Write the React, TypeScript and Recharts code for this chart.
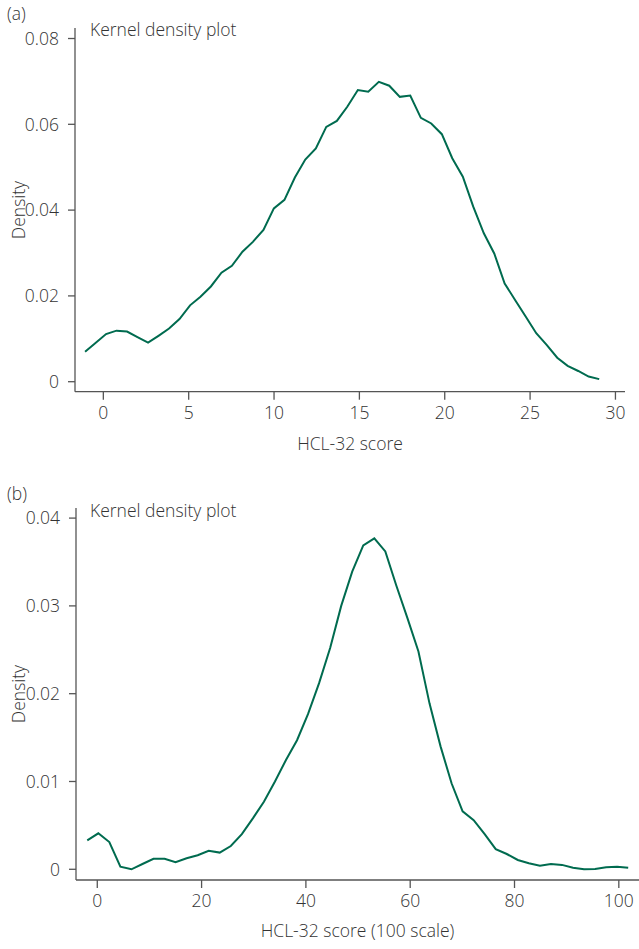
import React from 'react';
import { LineChart, Line, XAxis, YAxis } from 'recharts';

// Panel (a): HCL-32 score
const scoreA = [-1.07, -0.46, 0.16, 0.77, 1.39, 2.0, 2.62, 3.23, 3.85, 4.46, 5.08, 5.69, 6.3, 6.92, 7.53, 8.15, 8.76, 9.38, 9.99, 10.61, 11.22, 11.83, 12.45, 13.06, 13.68, 14.29, 14.91, 15.52, 16.14, 16.75, 17.37, 17.98, 18.6, 19.21, 19.83, 20.44, 21.06, 21.67, 22.29, 22.9, 23.51, 24.13, 24.74, 25.36, 25.97, 26.59, 27.2, 27.82, 28.43, 29.05];
const densityA = [0.007, 0.009, 0.0111, 0.0119, 0.0117, 0.0104, 0.0091, 0.0107, 0.0124, 0.0146, 0.0178, 0.0198, 0.0222, 0.0254, 0.027, 0.0303, 0.0326, 0.0354, 0.0404, 0.0424, 0.0476, 0.0518, 0.0544, 0.0594, 0.0608, 0.0641, 0.068, 0.0676, 0.0699, 0.069, 0.0664, 0.0667, 0.0615, 0.0602, 0.0577, 0.0521, 0.0478, 0.0408, 0.0346, 0.0299, 0.0229, 0.019, 0.0152, 0.0113, 0.0086, 0.0056, 0.0037, 0.0025, 0.0012, 0.0006];
const xTicksA = [0, 5, 10, 15, 20, 25, 30];
const yTicksA = [0, 0.02, 0.04, 0.06, 0.08];

// Panel (b): HCL-32 score (100 scale)
const scoreB = [-1.92, 0.2, 2.31, 4.43, 6.55, 8.66, 10.78, 12.9, 15.01, 17.13, 19.25, 21.36, 23.48, 25.6, 27.72, 29.83, 31.95, 34.07, 36.18, 38.3, 40.42, 42.53, 44.65, 46.77, 48.88, 51.0, 53.12, 55.23, 57.35, 59.47, 61.58, 63.7, 65.82, 67.93, 70.05, 72.17, 74.28, 76.4, 78.52, 80.63, 82.75, 84.87, 86.98, 89.1, 91.22, 93.33, 95.45, 97.57, 99.68, 101.8];
const densityB = [0.0033, 0.0041, 0.0031, 0.0003, 0.0, 0.0006, 0.0012, 0.0012, 0.0008, 0.00125, 0.0016, 0.0021, 0.0019, 0.00265, 0.004, 0.0058, 0.0077, 0.01, 0.01245, 0.0147, 0.0177, 0.0212, 0.0252, 0.03, 0.0339, 0.0369, 0.0377, 0.0362, 0.0323, 0.0286, 0.0248, 0.0189, 0.014, 0.0098, 0.0066, 0.0056, 0.004, 0.0023, 0.00174, 0.00106, 0.00068, 0.00041, 0.0006, 0.0005, 0.00018, 0.0, 0.00003, 0.00023, 0.0003, 0.00018];
const xTicksB = [0, 20, 40, 60, 80, 100];
const yTicksB = [0, 0.01, 0.02, 0.03, 0.04];

const dataA = scoreA.map((x, i) => ({ x, y: densityA[i] }));
const dataB = scoreB.map((x, i) => ({ x, y: densityB[i] }));

const FONT = '"Open Sans", Lato, sans-serif';
const TEXT = '#333333';
const AXIS = '#555555';
const GREEN = '#006b4f';
const FS = 17.5;

const tickStyle = { fontFamily: FONT, fontSize: FS, fill: TEXT, fontWeight: 300 };
const fmt = (v: number) => (v === 0 ? '0' : String(v));

export default function App() {
  return (
    <div style={{ position: 'absolute', left: 0, top: 0, width: 639, height: 949, background: '#fff' }}>
      <div style={{ position: 'absolute', left: 0, top: 0 }}>
        <LineChart width={639} height={470} data={dataA} margin={{ top: 28, right: 14, bottom: 48.3, left: 15 }}>
          <XAxis
            type="number"
            dataKey="x"
            domain={[-1.66, 30.56]}
            ticks={xTicksA}
            allowDataOverflow
            height={30}
            tickSize={8}
            tickMargin={7}
            stroke={AXIS}
            strokeWidth={1.3}
            tick={tickStyle}
          />
          <YAxis
            type="number"
            domain={[-0.00233, 0.08245]}
            ticks={yTicksA}
            allowDataOverflow
            width={60}
            tickSize={7}
            tickMargin={9}
            stroke={AXIS}
            strokeWidth={1.3}
            tick={tickStyle}
            tickFormatter={fmt}
          />
          <Line type="linear" dataKey="y" stroke={GREEN} strokeWidth={2} dot={false} isAnimationActive={false} />
        </LineChart>
      </div>
      <div style={{ position: 'absolute', left: 0, top: 470 }}>
        <LineChart width={639} height={479} data={dataB} margin={{ top: 38, right: 0, bottom: 39, left: 16 }}>
          <XAxis
            type="number"
            dataKey="x"
            domain={[-4.08, 103.87]}
            ticks={xTicksB}
            allowDataOverflow
            height={30}
            tickSize={8}
            tickMargin={7}
            stroke={AXIS}
            strokeWidth={1.3}
            tick={tickStyle}
          />
          <YAxis
            type="number"
            domain={[-0.00122, 0.04115]}
            ticks={yTicksB}
            allowDataOverflow
            width={60}
            tickSize={7}
            tickMargin={9}
            stroke={AXIS}
            strokeWidth={1.3}
            tick={tickStyle}
            tickFormatter={fmt}
          />
          <Line type="linear" dataKey="y" stroke={GREEN} strokeWidth={2} dot={false} isAnimationActive={false} />
        </LineChart>
      </div>
      <svg
        width={639}
        height={949}
        style={{ position: 'absolute', left: 0, top: 0, pointerEvents: 'none' }}
        fontFamily={FONT}
        fontSize={FS}
        fill={TEXT}
        fontWeight={300}
      >
        <text x={7} y={20}>(a)</text>
        <text x={90} y={36}>Kernel density plot</text>
        <text x={350} y={450} textAnchor="middle">HCL-32 score</text>
        <text x={25} y={210} textAnchor="middle" transform="rotate(-90 25 210)">Density</text>

        <text x={7} y={500}>(b)</text>
        <text x={90} y={516.5}>Kernel density plot</text>
        <text x={357.5} y={936.5} textAnchor="middle">HCL-32 score (100 scale)</text>
        <text x={25} y={694} textAnchor="middle" transform="rotate(-90 25 694)">Density</text>
      </svg>
    </div>
  );
}
